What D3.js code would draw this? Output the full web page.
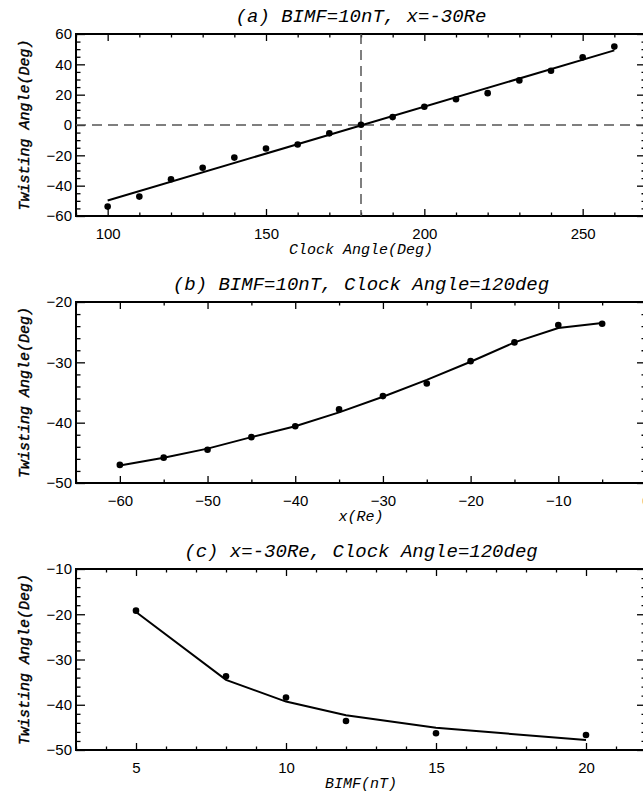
<!DOCTYPE html>
<html>
<head>
<meta charset="utf-8">
<script src="https://cdn.jsdelivr.net/npm/d3@7"></script>
<style>
  body { margin: 0; background: #fff; }
  .title, .xlabel, .ylabel { font-family: "Liberation Mono", monospace; font-style: italic; fill: #000; }
  .ylabel { stroke: #000; stroke-width: 0.4; }
  .tick text { font-family: "Liberation Sans", Arial, sans-serif; font-size: 15px; fill: #000; }
  .tick line { stroke: #000; stroke-width: 1.3; }
</style>
</head>
<body>
<svg id="chart"></svg>
<script>
// panel (a): twisting angle vs clock angle
const clockAngles = [100, 110, 120, 130, 140, 150, 160, 170, 180, 190, 200, 210, 220, 230, 240, 250, 260];
const twistA = [-53.8, -47.2, -35.8, -28.2, -21.5, -15.5, -12.9, -5.5, 0.2, 5.2, 12.0, 17.0, 21.0, 29.4, 35.8, 44.6, 51.7];
const fitAx = [100, 260];
const fitAy = [-49.8, 49.2];

// panel (b): twisting angle vs x
const xRe = [-60, -55, -50, -45, -40, -35, -30, -25, -20, -15, -10, -5];
const twistB = [-47.0, -45.8, -44.5, -42.4, -40.6, -37.8, -35.6, -33.5, -29.8, -26.7, -23.8, -23.6];
const fitB = [-47.1, -45.8, -44.3, -42.4, -40.6, -38.3, -35.7, -32.9, -29.9, -26.7, -24.3, -23.5];

// panel (c): twisting angle vs BIMF
const bimf = [5, 8, 10, 12, 15, 20];
const twistC = [-19.2, -33.7, -38.4, -43.6, -46.3, -46.7];
const fitC = [-19.5, -34.5, -39.3, -42.3, -45.1, -47.8];

const width = 643, height = 794;
const svg = d3.select("#chart").attr("width", width).attr("height", height);

const left = 76, right = 646;

function range(a, b, s) {
  const out = [];
  for (let v = a; v <= b + 1e-9; v += s) out.push(+v.toFixed(6));
  return out;
}

function fmt(d) { return d < 0 ? "\u2212" + Math.abs(d) : String(d); }

function panel(cfg) {
  const g = svg.append("g");
  const x = d3.scaleLinear().domain(cfg.xDomain).range([left, right]);
  const y = d3.scaleLinear().domain(cfg.yDomain).range([cfg.bottom, cfg.top]);

  const xMajor = range(cfg.xMajor[0], cfg.xDomain[1], cfg.xMajor[1]);
  const xMinor = range(cfg.xMinor[0], cfg.xDomain[1], cfg.xMinor[1]).filter(v => !xMajor.includes(v));
  const yMajor = range(cfg.yDomain[0], cfg.yDomain[1], cfg.yMajor);
  const yMinor = range(cfg.yDomain[0], cfg.yDomain[1], cfg.yMinor).filter(v => !yMajor.includes(v));

  const noDomain = sel => sel.select(".domain").remove();

  // bottom + top
  g.append("g").attr("transform", `translate(0,${cfg.bottom})`)
    .call(d3.axisBottom(x).tickValues(xMajor).tickSize(-7).tickPadding(12).tickFormat(fmt)).call(noDomain);
  g.append("g").attr("transform", `translate(0,${cfg.bottom})`)
    .call(d3.axisBottom(x).tickValues(xMinor).tickSize(-3.5).tickFormat("")).call(noDomain);
  g.append("g").attr("transform", `translate(0,${cfg.top})`)
    .call(d3.axisTop(x).tickValues(xMajor).tickSize(-7).tickFormat("")).call(noDomain);
  g.append("g").attr("transform", `translate(0,${cfg.top})`)
    .call(d3.axisTop(x).tickValues(xMinor).tickSize(-3.5).tickFormat("")).call(noDomain);

  // left + right
  g.append("g").attr("transform", `translate(${left},0)`)
    .call(d3.axisLeft(y).tickValues(yMajor).tickSize(-9).tickPadding(4).tickFormat(fmt)).call(noDomain);
  g.append("g").attr("transform", `translate(${left},0)`)
    .call(d3.axisLeft(y).tickValues(yMinor).tickSize(-4.5).tickFormat("")).call(noDomain);
  g.append("g").attr("transform", `translate(${right},0)`)
    .call(d3.axisRight(y).tickValues(yMajor).tickSize(-9).tickFormat("")).call(noDomain);
  g.append("g").attr("transform", `translate(${right},0)`)
    .call(d3.axisRight(y).tickValues(yMinor).tickSize(-4.5).tickFormat("")).call(noDomain);

  g.append("rect")
    .attr("x", left).attr("y", cfg.top)
    .attr("width", right - left).attr("height", cfg.bottom - cfg.top)
    .attr("fill", "none").attr("stroke", "#000").attr("stroke-width", 2);

  if (cfg.dashed) {
    g.append("line")
      .attr("x1", left).attr("x2", right)
      .attr("y1", y(0)).attr("y2", y(0))
      .attr("stroke", "#555").attr("stroke-width", 1.5).attr("stroke-dasharray", "10,6");
    g.append("line")
      .attr("x1", x(180)).attr("x2", x(180))
      .attr("y1", cfg.top).attr("y2", cfg.bottom)
      .attr("stroke", "#555").attr("stroke-width", 1.5).attr("stroke-dasharray", "10,6");
  }

  const line = d3.line().x(d => x(d[0])).y(d => y(d[1]));
  g.append("path")
    .datum(d3.zip(cfg.fitX, cfg.fitY))
    .attr("d", line)
    .attr("fill", "none").attr("stroke", "#000").attr("stroke-width", 2);

  g.selectAll("circle.pt")
    .data(d3.zip(cfg.xs, cfg.ys))
    .enter().append("circle")
    .attr("class", "pt")
    .attr("cx", d => x(d[0]))
    .attr("cy", d => y(d[1]))
    .attr("r", 3.3)
    .attr("fill", "#000");

  g.append("text").attr("class", "title")
    .attr("x", (left + right) / 2).attr("y", cfg.top - 12)
    .attr("text-anchor", "middle").style("font-size", "19px")
    .text(cfg.title);

  g.append("text").attr("class", "xlabel")
    .attr("x", (left + right) / 2).attr("y", cfg.bottom + 38)
    .attr("text-anchor", "middle").style("font-size", "15px")
    .text(cfg.xLabel);

  g.append("text").attr("class", "ylabel")
    .attr("transform", `translate(29,${(cfg.top + cfg.bottom) / 2}) rotate(-90)`)
    .attr("text-anchor", "middle").style("font-size", "15px")
    .text("Twisting Angle(Deg)");
}

panel({
  top: 34, bottom: 216,
  xDomain: [90, 270], yDomain: [-60, 60],
  xMajor: [100, 50], xMinor: [90, 10], yMajor: 20, yMinor: 5,
  xs: clockAngles, ys: twistA, fitX: fitAx, fitY: fitAy,
  dashed: true,
  title: "(a) BIMF=10nT, x=-30Re",
  xLabel: "Clock Angle(Deg)"
});

panel({
  top: 302, bottom: 483,
  xDomain: [-65, 0], yDomain: [-50, -20],
  xMajor: [-60, 10], xMinor: [-65, 5], yMajor: 10, yMinor: 2,
  xs: xRe, ys: twistB, fitX: xRe, fitY: fitB,
  title: "(b) BIMF=10nT, Clock Angle=120deg",
  xLabel: "x(Re)"
});

panel({
  top: 569, bottom: 750,
  xDomain: [3, 22], yDomain: [-50, -10],
  xMajor: [5, 5], xMinor: [3, 1], yMajor: 10, yMinor: 2,
  xs: bimf, ys: twistC, fitX: bimf, fitY: fitC,
  title: "(c) x=-30Re, Clock Angle=120deg",
  xLabel: "BIMF(nT)"
});
</script>
</body>
</html>
